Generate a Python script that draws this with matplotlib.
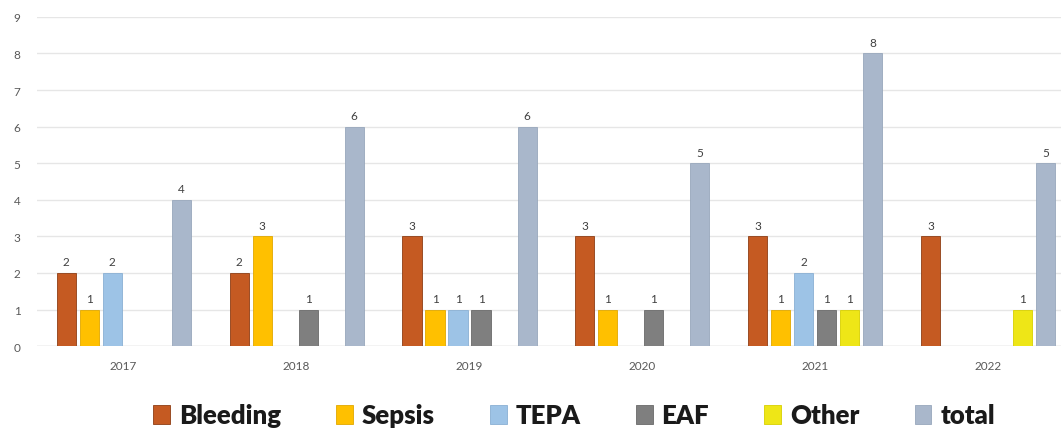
import matplotlib
matplotlib.use("Agg")
import matplotlib.pyplot as plt
import numpy as np

years = ["2017", "2018", "2019", "2020", "2021", "2022"]
series_names = ["Bleeding", "Sepsis", "TEPA", "EAF", "Other", "total"]
bleeding = [2, 2, 3, 3, 3, 3]
sepsis = [1, 3, 1, 1, 1, 0]
tepa = [2, 0, 1, 0, 2, 0]
eaf = [0, 1, 1, 1, 1, 0]
other = [0, 0, 0, 0, 1, 1]
total = [4, 6, 6, 5, 8, 5]
y_ticks = list(range(0, 10))

series_values = [bleeding, sepsis, tepa, eaf, other, total]
colors = ["#C55A22", "#FFC000", "#9DC3E6", "#7F7F7F", "#EEE617", "#A9B7CB"]
edges = ["#8E3E14", "#E0A800", "#8AB0D4", "#6A6A6A", "#D8D000", "#98A7BC"]

plt.rcParams["font.family"] = ["Lato", "DejaVu Sans"]

fig = plt.figure(figsize=(10.61, 4.35), dpi=100)
ax = fig.add_axes([0.035, 0.202, 0.965, 0.757])

x = np.arange(len(years))
step = 0.133
width = 0.11
handles = []
for i, (name, vals) in enumerate(zip(series_names, series_values)):
    pos = x + (i - 2.5) * step
    bars = ax.bar(pos, vals, width=width, color=colors[i], edgecolor=edges[i],
                  linewidth=0.6, label=name, zorder=3)
    handles.append(bars)
    for xp, v in zip(pos, vals):
        if v > 0:
            ax.text(xp, v + 0.15, str(v), ha="center", va="bottom",
                    fontsize=8.5, color="#404040", zorder=4)

ax.set_xlim(-0.5, 5.42)
ax.set_ylim(0, 9)
ax.set_yticks(y_ticks)
ax.set_xticks(x)
ax.set_xticklabels(years)
ax.tick_params(axis="both", length=0, labelsize=8.5, colors="#595959")
ax.tick_params(axis="x", pad=10)
ax.tick_params(axis="y", pad=12)
ax.grid(axis="y", color="#E6E6E6", linewidth=1, zorder=0)
for s in ax.spines.values():
    s.set_visible(False)
ax.axhline(0, color="#D9D9D9", linewidth=1, zorder=2)

leg = fig.legend(handles=handles, labels=series_names, loc="center",
                 bbox_to_anchor=(0.541, 0.043), ncol=6, frameon=False,
                 handlelength=0.65, handleheight=0.8, handletextpad=0.35,
                 columnspacing=2.15,
                 prop={"family": "Lato", "weight": "heavy", "size": 18.5})
for t in leg.get_texts():
    t.set_color("#1a1a1a")

fig.savefig("out.png", dpi=100, facecolor="white")
